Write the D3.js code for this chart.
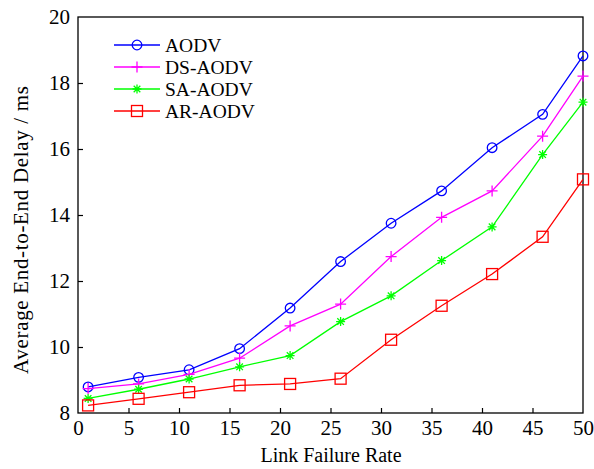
<!DOCTYPE html>
<html>
<head>
<meta charset="utf-8">
<script src="https://cdn.jsdelivr.net/npm/d3@7"></script>
<style>
  body { margin: 0; background: #fff; }
  svg text { font-family: "Liberation Serif", "Times New Roman", serif; fill: #000; }
</style>
</head>
<body>
<svg id="chart" width="594" height="469"></svg>
<script>
// link failure rate (x)
const RATES = [1, 6, 11, 16, 21, 26, 31, 36, 41, 46, 50];
// average end-to-end delay (ms)
const AODV    = [8.79, 9.08, 9.31, 9.95, 11.18, 12.59, 13.75, 14.73, 16.04, 17.05, 18.82];
const DS_AODV = [8.74, 8.88, 9.17, 9.66, 10.64, 11.30, 12.74, 13.93, 14.73, 16.39, 18.21];
const SA_AODV = [8.44, 8.72, 9.03, 9.40, 9.74, 10.77, 11.55, 12.62, 13.64, 15.83, 17.42];
const AR_AODV = [8.23, 8.43, 8.63, 8.84, 8.88, 9.04, 10.22, 11.25, 12.21, 13.34, 15.08];
const X_TICKS = [0, 5, 10, 15, 20, 25, 30, 35, 40, 45, 50];
const Y_TICKS = [8, 10, 12, 14, 16, 18, 20];

const SERIES = [
  {name: 'AODV', values: AODV, color: '#0000ff', marker: 'circle'},
  {name: 'DS-AODV', values: DS_AODV, color: '#ff00ff', marker: 'plus'},
  {name: 'SA-AODV', values: SA_AODV, color: '#00ff00', marker: 'star'},
  {name: 'AR-AODV', values: AR_AODV, color: '#ff0000', marker: 'square'}
];

const W = 594, H = 469;
const margin = {top: 17, right: 11, bottom: 56, left: 78};
const svg = d3.select('#chart');

const x = d3.scaleLinear().domain([0, 50]).range([margin.left, W - margin.right]);
const y = d3.scaleLinear().domain([8, 20]).range([H - margin.bottom, margin.top]);

// axes with inward ticks
const xAxis = svg.append('g')
  .attr('transform', `translate(0,${H - margin.bottom})`)
  .call(d3.axisBottom(x).tickValues(X_TICKS).tickSizeInner(-5).tickSizeOuter(0).tickPadding(7));
const yAxis = svg.append('g')
  .attr('transform', `translate(${margin.left},0)`)
  .call(d3.axisLeft(y).tickValues(Y_TICKS).tickSizeInner(-5).tickSizeOuter(0).tickPadding(8));
[xAxis, yAxis].forEach(function(g){
  g.select('.domain').remove();
  g.selectAll('.tick line').attr('stroke', '#000').attr('stroke-width', 1.2);
  g.selectAll('.tick text').style('font-size', '21px');
});
// hide the ticks sitting on the frame corners
xAxis.selectAll('.tick line').filter(function(d){ return d === 0 || d === 50; }).remove();
yAxis.selectAll('.tick line').filter(function(d){ return d === 8 || d === 20; }).remove();

// frame
svg.append('rect')
  .attr('x', margin.left).attr('y', margin.top)
  .attr('width', W - margin.left - margin.right)
  .attr('height', H - margin.top - margin.bottom)
  .attr('fill', 'none').attr('stroke', '#000').attr('stroke-width', 1.3);

// titles
svg.append('text')
  .attr('x', 331).attr('y', 462)
  .attr('text-anchor', 'middle').style('font-size', '20px')
  .text('Link Failure Rate');
svg.append('text')
  .attr('transform', 'translate(28,230) rotate(-90)')
  .attr('text-anchor', 'middle').style('font-size', '21px')
  .attr('textLength', 288).attr('lengthAdjust', 'spacing')
  .text('Average End-to-End Delay / ms');

// marker drawing
function drawMarker(g, type, color) {
  if (type === 'circle') {
    g.append('circle').attr('r', 4.8).attr('fill', 'none').attr('stroke', color).attr('stroke-width', 1.3);
  } else if (type === 'square') {
    g.append('rect').attr('x', -5.5).attr('y', -5.5).attr('width', 11).attr('height', 11)
      .attr('fill', 'none').attr('stroke', color).attr('stroke-width', 1.3);
  } else if (type === 'plus') {
    g.append('path').attr('d', 'M-5.5,0H5.5M0,-5.5V5.5').attr('stroke', color).attr('stroke-width', 1.3);
  } else if (type === 'star') {
    g.append('path').attr('d', 'M-4.5,0H4.5M0,-4.5V4.5M-3.3,-3.3L3.3,3.3M-3.3,3.3L3.3,-3.3')
      .attr('stroke', color).attr('stroke-width', 1.3);
  }
}

const line = d3.line().x(function(d){ return x(d[0]); }).y(function(d){ return y(d[1]); });

SERIES.forEach(function(s){
  const pts = RATES.map(function(r, i){ return [r, s.values[i]]; });
  svg.append('path').datum(pts)
    .attr('d', line).attr('fill', 'none')
    .attr('stroke', s.color).attr('stroke-width', 1.3);
  svg.selectAll(null).data(pts).enter().append('g')
    .attr('transform', function(d){ return `translate(${x(d[0])},${y(d[1])})`; })
    .each(function(){ drawMarker(d3.select(this), s.marker, s.color); });
});

// legend
const legend = svg.append('g').attr('transform', 'translate(114,45)');
SERIES.forEach(function(s, i){
  const row = legend.append('g').attr('transform', `translate(0,${i * 22})`);
  row.append('line').attr('x1', 0).attr('x2', 46).attr('y1', 0).attr('y2', 0)
    .attr('stroke', s.color).attr('stroke-width', 1.3);
  drawMarker(row.append('g').attr('transform', 'translate(23,0)'), s.marker, s.color);
  row.append('text').attr('x', 51).attr('y', 0).attr('dy', '0.35em')
    .style('font-size', '19.5px').text(s.name);
});
</script>
</body>
</html>
